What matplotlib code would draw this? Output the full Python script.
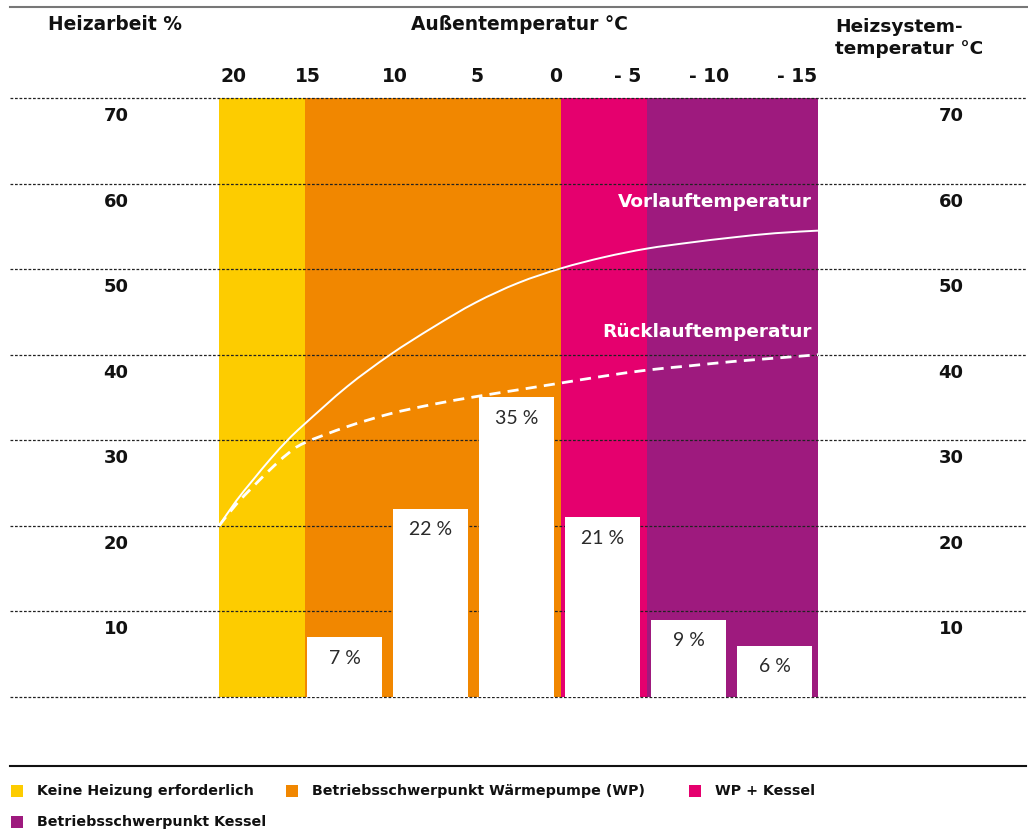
import matplotlib
matplotlib.use("Agg")
import matplotlib.pyplot as plt
from matplotlib.patches import Rectangle, PathPatch
from matplotlib.lines import Line2D
from matplotlib.path import Path

# ---------------- data ----------------
temp_ticks = [20, 15, 10, 5, 0, -5, -10, -15]
temp_tick_labels = ["20", "15", "10", "5", "0", "- 5", "- 10", "- 15"]
y_ticks = [10, 20, 30, 40, 50, 60, 70]

band_names = ["Keine Heizung erforderlich", "Betriebsschwerpunkt Wärmepumpe (WP)",
              "WP + Kessel", "Betriebsschwerpunkt Kessel"]
band_from = [20, 15, 0, -5]
band_to = [15, 0, -5, -15]
band_colors = ["#FDCC00", "#F18700", "#E5006E", "#9E1A7E"]

bar_bin_from = [15, 10, 5, 0, -5, -10]
heizarbeit = [7, 22, 35, 21, 9, 6]

curve_temp = [20, 19, 18, 17, 16, 15, 12.5, 10, 7.5, 5, 2.5, 0, -2.5, -5, -7.5, -10, -12.5, -15]
vorlauf = [20, 22.9, 25.4, 27.8, 30.0, 31.9, 36.3, 40.0, 43.2, 46.1, 48.4, 50.1, 51.4, 52.4, 53.1, 53.7, 54.2, 54.5]
ruecklauf = [20, 22.5, 24.6, 26.6, 28.4, 29.7, 31.6, 33.1, 34.2, 35.1, 35.9, 36.7, 37.5, 38.2, 38.7, 39.2, 39.6, 40.0]

# ---------------- layout ----------------
W, H = 1028, 832
fig = plt.figure(figsize=(W / 100, H / 100), dpi=100)

def fx(px):
    return px / W

def fy(py):
    return 1 - py / H

# axis mapping: temp 20 -> px 219, temp -15 -> px 818 ; y 0 -> px 697, y 70 -> px 98
px20, px_15 = 219, 818
ppd = (px_15 - px20) / 35.0
ppu = (697 - 98) / 70.0
x_left = 20 + px20 / ppd
x_right = -15 - (W - px_15) / ppd

ax = fig.add_axes([0, fy(697), 1, (697 - 98) / H])
ax.set_xlim(x_left, x_right)
ax.set_ylim(0, 70)
ax.axis("off")

bold = dict(family="DejaVu Sans", fontweight="bold", color="#111111")

# bands
for a, b, c in zip(band_from, band_to, band_colors):
    ax.axvspan(a, b, ymin=0, ymax=1, color=c, zorder=1, lw=0)

# dotted gridlines across figure width
for v in [0] + y_ticks:
    ax.plot([fx(10), fx(1026)], [v, v], transform=ax.get_yaxis_transform(),
            color="#222222", lw=0.9, ls=(0, (2.2, 1.4)), zorder=2, clip_on=False)

# bars (white)
for i, (a, v) in enumerate(zip(bar_bin_from, heizarbeit)):
    left = a - (2.6 + 0.45 * i) / ppd
    width = -75.0 / ppd
    ax.bar(left, v, width=width, align="edge", color="white", zorder=3, lw=0)
    ax.text(left + width / 2, v - 21 / ppu, f"{v} %", ha="center", va="center",
            fontsize=14, color="#2a2a2a", family="Lato", fontweight="normal", zorder=5)


def smooth_path(xs, ys):
    """Catmull-Rom spline through the read points, as cubic Bezier path."""
    pts = list(zip(xs, ys))
    verts = [pts[0]]
    codes = [Path.MOVETO]
    n = len(pts)
    for i in range(n - 1):
        p0 = pts[i - 1] if i > 0 else pts[i]
        p1 = pts[i]
        p2 = pts[i + 1]
        p3 = pts[i + 2] if i + 2 < n else pts[i + 1]
        c1 = (p1[0] + (p2[0] - p0[0]) / 6, p1[1] + (p2[1] - p0[1]) / 6)
        c2 = (p2[0] - (p3[0] - p1[0]) / 6, p2[1] - (p3[1] - p1[1]) / 6)
        verts += [c1, c2, p2]
        codes += [Path.CURVE4] * 3
    return Path(verts, codes)


ax.add_patch(PathPatch(smooth_path(curve_temp, vorlauf), fill=False, ec="white",
                       lw=1.4, zorder=4))
ax.add_patch(PathPatch(smooth_path(curve_temp, ruecklauf), fill=False, ec="white",
                       lw=2.0, ls=(0, (4, 2.6)), zorder=4))

ax.text(-15 + 6 / ppd, 57.9, "Vorlauftemperatur", ha="right", va="center",
        fontsize=13.3, color="white", family="DejaVu Sans", fontweight="bold", zorder=5)
ax.text(-15 + 6 / ppd, 42.6, "Rücklauftemperatur", ha="right", va="center",
        fontsize=13.3, color="white", family="DejaVu Sans", fontweight="bold", zorder=5)

# y labels left / right
for v in y_ticks:
    py = 697 - v * ppu + 18
    fig.text(fx(116), fy(py), str(v), ha="center", va="center", fontsize=13, **bold)
    fig.text(fx(951), fy(py), str(v), ha="center", va="center", fontsize=13, **bold)

# temperature tick labels (placed as in reference)
tick_label_px = [234, 308, 395, 477, 556, 628, 709, 797]
for px, lab in zip(tick_label_px, temp_tick_labels):
    fig.text(fx(px), fy(77), lab, ha="center", va="center", fontsize=13.5, **bold)

# headers
fig.text(fx(115), fy(25), "Heizarbeit %", ha="center", va="center", fontsize=13.4, **bold)
fig.text(fx(519), fy(25), "Außentemperatur °C", ha="center", va="center", fontsize=13.4, **bold)
fig.text(fx(835), fy(38), "Heizsystem-\ntemperatur °C", ha="left", va="center",
         fontsize=13.3, linespacing=1.35, **bold)

# top grey line and bottom black line
fig.add_artist(Line2D([fx(10), 1], [fy(7), fy(7)], color="#777777", lw=1.5))
fig.add_artist(Line2D([fx(10), fx(1026)], [fy(766), fy(766)], color="#111111", lw=1.5))

# legend
leg_pos = [(11, 791), (286, 791), (689, 791), (11, 822)]
for (px, py), name, c in zip(leg_pos, band_names, band_colors):
    fig.add_artist(Rectangle((fx(px), fy(py + 6)), 12 / W, 12 / H, color=c, lw=0))
    fig.text(fx(px + 26), fy(py), name, ha="left", va="center", fontsize=10.3,
             family="DejaVu Sans", fontweight="bold", color="#111111")

fig.savefig("out.png", dpi=100)
